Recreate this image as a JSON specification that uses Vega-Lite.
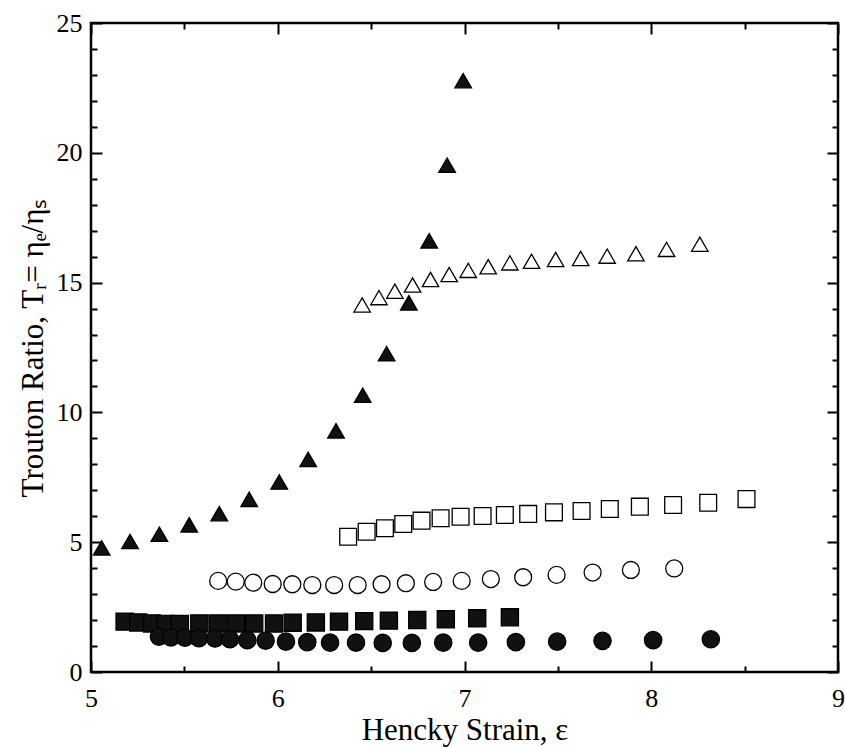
{
  "$schema": "https://vega.github.io/schema/vega-lite/v6.json",
  "autosize": "none",
  "width": 747,
  "height": 649,
  "padding": {"left": 91, "top": 23, "right": 7, "bottom": 75},
  "background": "white",
  "config": {
    "view": {"stroke": "black", "strokeWidth": 2.5},
    "font": "Liberation Serif"
  },
  "data": {
    "values": [
      {"series": "open_tri", "strain": 6.452, "ratio": 14.14},
      {"series": "open_tri", "strain": 6.542, "ratio": 14.42},
      {"series": "open_tri", "strain": 6.627, "ratio": 14.67},
      {"series": "open_tri", "strain": 6.722, "ratio": 14.91},
      {"series": "open_tri", "strain": 6.818, "ratio": 15.12},
      {"series": "open_tri", "strain": 6.918, "ratio": 15.31},
      {"series": "open_tri", "strain": 7.020, "ratio": 15.47},
      {"series": "open_tri", "strain": 7.127, "ratio": 15.61},
      {"series": "open_tri", "strain": 7.243, "ratio": 15.76},
      {"series": "open_tri", "strain": 7.359, "ratio": 15.82},
      {"series": "open_tri", "strain": 7.488, "ratio": 15.89},
      {"series": "open_tri", "strain": 7.622, "ratio": 15.93},
      {"series": "open_tri", "strain": 7.764, "ratio": 16.02},
      {"series": "open_tri", "strain": 7.918, "ratio": 16.11},
      {"series": "open_tri", "strain": 8.082, "ratio": 16.28},
      {"series": "open_tri", "strain": 8.260, "ratio": 16.48},
      {"series": "filled_tri", "strain": 5.057, "ratio": 4.78},
      {"series": "filled_tri", "strain": 5.209, "ratio": 5.03},
      {"series": "filled_tri", "strain": 5.366, "ratio": 5.31},
      {"series": "filled_tri", "strain": 5.526, "ratio": 5.67},
      {"series": "filled_tri", "strain": 5.687, "ratio": 6.10},
      {"series": "filled_tri", "strain": 5.847, "ratio": 6.65},
      {"series": "filled_tri", "strain": 6.008, "ratio": 7.32},
      {"series": "filled_tri", "strain": 6.163, "ratio": 8.19},
      {"series": "filled_tri", "strain": 6.312, "ratio": 9.29},
      {"series": "filled_tri", "strain": 6.455, "ratio": 10.66},
      {"series": "filled_tri", "strain": 6.583, "ratio": 12.26},
      {"series": "filled_tri", "strain": 6.702, "ratio": 14.22},
      {"series": "filled_tri", "strain": 6.811, "ratio": 16.61},
      {"series": "filled_tri", "strain": 6.907, "ratio": 19.52},
      {"series": "filled_tri", "strain": 6.993, "ratio": 22.78},
      {"series": "open_sq", "strain": 6.377, "ratio": 5.21},
      {"series": "open_sq", "strain": 6.476, "ratio": 5.40},
      {"series": "open_sq", "strain": 6.574, "ratio": 5.54},
      {"series": "open_sq", "strain": 6.672, "ratio": 5.70},
      {"series": "open_sq", "strain": 6.770, "ratio": 5.83},
      {"series": "open_sq", "strain": 6.872, "ratio": 5.92},
      {"series": "open_sq", "strain": 6.979, "ratio": 5.98},
      {"series": "open_sq", "strain": 7.097, "ratio": 6.01},
      {"series": "open_sq", "strain": 7.216, "ratio": 6.05},
      {"series": "open_sq", "strain": 7.341, "ratio": 6.09},
      {"series": "open_sq", "strain": 7.479, "ratio": 6.15},
      {"series": "open_sq", "strain": 7.627, "ratio": 6.20},
      {"series": "open_sq", "strain": 7.778, "ratio": 6.28},
      {"series": "open_sq", "strain": 7.939, "ratio": 6.37},
      {"series": "open_sq", "strain": 8.117, "ratio": 6.43},
      {"series": "open_sq", "strain": 8.305, "ratio": 6.52},
      {"series": "open_sq", "strain": 8.510, "ratio": 6.66},
      {"series": "open_circ", "strain": 5.681, "ratio": 3.51},
      {"series": "open_circ", "strain": 5.775, "ratio": 3.48},
      {"series": "open_circ", "strain": 5.869, "ratio": 3.44},
      {"series": "open_circ", "strain": 5.973, "ratio": 3.39},
      {"series": "open_circ", "strain": 6.078, "ratio": 3.38},
      {"series": "open_circ", "strain": 6.185, "ratio": 3.35},
      {"series": "open_circ", "strain": 6.302, "ratio": 3.35},
      {"series": "open_circ", "strain": 6.428, "ratio": 3.35},
      {"series": "open_circ", "strain": 6.556, "ratio": 3.38},
      {"series": "open_circ", "strain": 6.686, "ratio": 3.42},
      {"series": "open_circ", "strain": 6.832, "ratio": 3.47},
      {"series": "open_circ", "strain": 6.985, "ratio": 3.51},
      {"series": "open_circ", "strain": 7.141, "ratio": 3.58},
      {"series": "open_circ", "strain": 7.314, "ratio": 3.65},
      {"series": "open_circ", "strain": 7.493, "ratio": 3.74},
      {"series": "open_circ", "strain": 7.686, "ratio": 3.83},
      {"series": "open_circ", "strain": 7.891, "ratio": 3.93},
      {"series": "open_circ", "strain": 8.123, "ratio": 3.99},
      {"series": "filled_sq", "strain": 5.180, "ratio": 1.94},
      {"series": "filled_sq", "strain": 5.253, "ratio": 1.91},
      {"series": "filled_sq", "strain": 5.327, "ratio": 1.87},
      {"series": "filled_sq", "strain": 5.400, "ratio": 1.85},
      {"series": "filled_sq", "strain": 5.476, "ratio": 1.85},
      {"series": "filled_sq", "strain": 5.580, "ratio": 1.87},
      {"series": "filled_sq", "strain": 5.678, "ratio": 1.87},
      {"series": "filled_sq", "strain": 5.776, "ratio": 1.87},
      {"series": "filled_sq", "strain": 5.874, "ratio": 1.87},
      {"series": "filled_sq", "strain": 5.980, "ratio": 1.87},
      {"series": "filled_sq", "strain": 6.080, "ratio": 1.90},
      {"series": "filled_sq", "strain": 6.204, "ratio": 1.91},
      {"series": "filled_sq", "strain": 6.328, "ratio": 1.94},
      {"series": "filled_sq", "strain": 6.463, "ratio": 1.96},
      {"series": "filled_sq", "strain": 6.595, "ratio": 1.98},
      {"series": "filled_sq", "strain": 6.747, "ratio": 2.00},
      {"series": "filled_sq", "strain": 6.900, "ratio": 2.03},
      {"series": "filled_sq", "strain": 7.068, "ratio": 2.07},
      {"series": "filled_sq", "strain": 7.243, "ratio": 2.11},
      {"series": "filled_circ", "strain": 5.364, "ratio": 1.36},
      {"series": "filled_circ", "strain": 5.428, "ratio": 1.33},
      {"series": "filled_circ", "strain": 5.503, "ratio": 1.32},
      {"series": "filled_circ", "strain": 5.578, "ratio": 1.30},
      {"series": "filled_circ", "strain": 5.664, "ratio": 1.29},
      {"series": "filled_circ", "strain": 5.744, "ratio": 1.26},
      {"series": "filled_circ", "strain": 5.837, "ratio": 1.23},
      {"series": "filled_circ", "strain": 5.935, "ratio": 1.21},
      {"series": "filled_circ", "strain": 6.044, "ratio": 1.17},
      {"series": "filled_circ", "strain": 6.158, "ratio": 1.15},
      {"series": "filled_circ", "strain": 6.280, "ratio": 1.13},
      {"series": "filled_circ", "strain": 6.419, "ratio": 1.13},
      {"series": "filled_circ", "strain": 6.562, "ratio": 1.12},
      {"series": "filled_circ", "strain": 6.718, "ratio": 1.12},
      {"series": "filled_circ", "strain": 6.886, "ratio": 1.13},
      {"series": "filled_circ", "strain": 7.073, "ratio": 1.13},
      {"series": "filled_circ", "strain": 7.275, "ratio": 1.15},
      {"series": "filled_circ", "strain": 7.496, "ratio": 1.17},
      {"series": "filled_circ", "strain": 7.739, "ratio": 1.20},
      {"series": "filled_circ", "strain": 8.010, "ratio": 1.23},
      {"series": "filled_circ", "strain": 8.319, "ratio": 1.26}
    ]
  },
  "resolve": {"axis": {"x": "independent", "y": "independent"}},
  "layer": [
    {
      "mark": {"type": "point", "filled": true, "stroke": "black", "strokeWidth": 1.3, "opacity": 1},
      "encoding": {
        "x": {
          "field": "strain", "type": "quantitative",
          "scale": {"domain": [5, 9], "nice": false, "zero": false},
          "axis": {
            "orient": "bottom",
            "values": [5, 5.5, 6, 6.5, 7, 7.5, 8, 8.5, 9],
            "labelExpr": "datum.value % 1 === 0 ? format(datum.value, 'd') : ''",
            "tickSize": {"condition": {"test": "datum.value % 1 === 0", "value": -11}, "value": -6},
            "tickWidth": 2, "tickColor": "black",
            "domain": false, "grid": false,
            "labelFont": "Liberation Serif", "labelFontSize": 26, "labelColor": "black",
            "labelPadding": 24, "labelFlush": false, "labelOverlap": false,
            "title": "Hencky Strain, ε",
            "titleFont": "Liberation Serif", "titleFontSize": 31, "titleFontWeight": "normal", "titleColor": "black",
            "titleBaseline": "alphabetic", "titleY": 67
          }
        },
        "y": {
          "field": "ratio", "type": "quantitative",
          "scale": {"domain": [0, 25], "nice": false, "zero": false},
          "axis": {
            "orient": "left",
            "values": [0,1,2,3,4,5,6,7,8,9,10,11,12,13,14,15,16,17,18,19,20,21,22,23,24,25],
            "labelExpr": "datum.value % 5 === 0 ? format(datum.value, 'd') : ''",
            "tickSize": {"condition": {"test": "datum.value % 5 === 0", "value": -11}, "value": -6},
            "tickWidth": 2, "tickColor": "black",
            "domain": false, "grid": false,
            "labelFont": "Liberation Serif", "labelFontSize": 26, "labelColor": "black",
            "labelPadding": 20, "labelFlush": false, "labelOverlap": false,
            "title": "Trouton Ratio, Tᵣ= ηₑ/ηₛ",
            "titleFont": "Liberation Serif", "titleFontSize": 31, "titleFontWeight": "normal", "titleColor": "black",
            "titleBaseline": "alphabetic", "titleX": -49
          }
        },
        "shape": {
          "field": "series", "type": "nominal", "legend": null,
          "scale": {
            "domain": ["open_tri", "filled_tri", "open_sq", "open_circ", "filled_sq", "filled_circ"],
            "range": ["triangle-up", "triangle-up", "square", "circle", "square", "circle"]
          }
        },
        "fill": {
          "field": "series", "type": "nominal", "legend": null,
          "scale": {
            "domain": ["open_tri", "filled_tri", "open_sq", "open_circ", "filled_sq", "filled_circ"],
            "range": ["transparent", "#111111", "transparent", "transparent", "#111111", "#111111"]
          }
        },
        "size": {
          "field": "series", "type": "nominal", "legend": null,
          "scale": {
            "domain": ["open_tri", "filled_tri", "open_sq", "open_circ", "filled_sq", "filled_circ"],
            "range": [270, 300, 144, 150, 170, 170]
          }
        }
      }
    },
    {
      "mark": {"type": "point", "opacity": 0},
      "encoding": {
        "x": {
          "field": "strain", "type": "quantitative",
          "axis": {
            "orient": "top",
            "values": [5, 5.5, 6, 6.5, 7, 7.5, 8, 8.5, 9],
            "labels": false,
            "tickSize": {"condition": {"test": "datum.value % 1 === 0", "value": -11}, "value": -6},
            "tickWidth": 2, "tickColor": "black",
            "domain": false, "grid": false, "title": null
          }
        },
        "y": {
          "field": "ratio", "type": "quantitative",
          "axis": {
            "orient": "right",
            "values": [0,1,2,3,4,5,6,7,8,9,10,11,12,13,14,15,16,17,18,19,20,21,22,23,24,25],
            "labels": false,
            "tickSize": {"condition": {"test": "datum.value % 5 === 0", "value": -11}, "value": -6},
            "tickWidth": 2, "tickColor": "black",
            "domain": false, "grid": false, "title": null
          }
        }
      }
    }
  ]
}
